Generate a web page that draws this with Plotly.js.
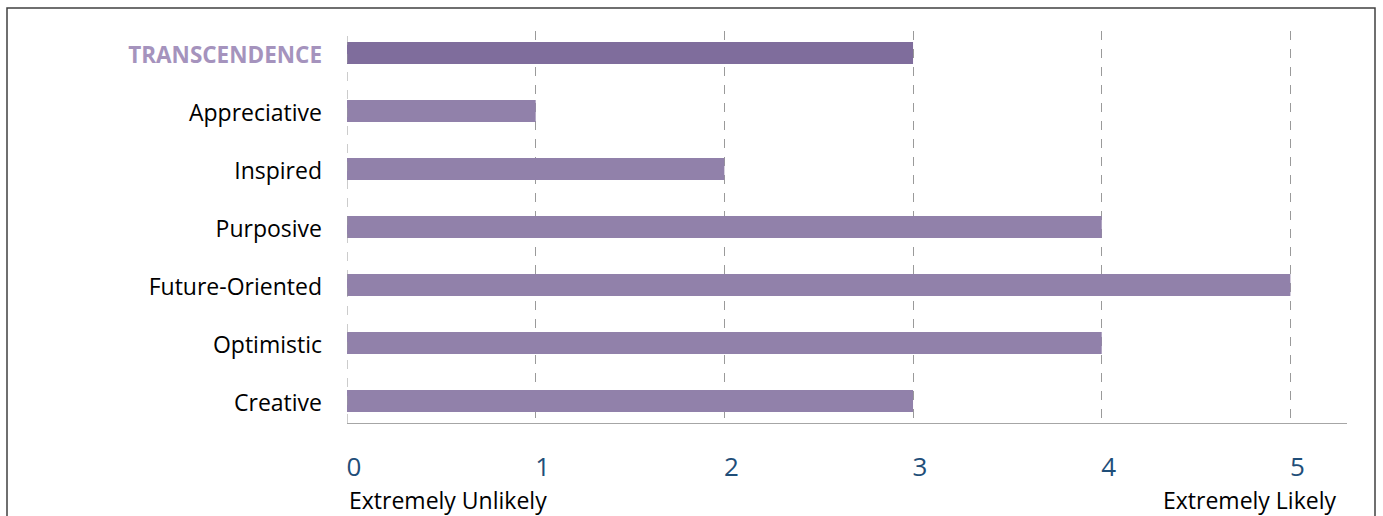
<!DOCTYPE html>
<html><head><meta charset="utf-8">
<script src="https://cdn.plot.ly/plotly-3.0.1.min.js"></script>
<style>html,body{margin:0;padding:0;background:#fff;}#chart{width:1383px;height:516px;}</style>
</head><body><div id="chart"></div>
<script>
const categories = ["TRANSCENDENCE","Appreciative","Inspired","Purposive","Future-Oriented","Optimistic","Creative"];
const values = [3,1,2,4,5,4,3];
const tickVals = [0,1,2,3,4,5];
const lowLabel = "Extremely Unlikely";
const highLabel = "Extremely Likely";

const barColors = categories.map((c,i)=> i===0 ? "#7f6d9c" : "#9181aa");
const tickText = categories.map((c,i)=> i===0 ? '<b><span style="color:#a593bd;font-size:22.5px">'+c+'</span></b>' : c);

const trace = {
  type:'bar', orientation:'h',
  x: values, y: categories.map((c,i)=>i),
  marker:{color:barColors, line:{width:0}},
  width:0.38, hoverinfo:'none'
};
const layout = {
  width:1383, height:516,
  margin:{l:347, r:36, t:31, b:93},
  paper_bgcolor:'#ffffff', plot_bgcolor:'#ffffff',
  showlegend:false,
  font:{family:'"Open Sans", sans-serif', size:23, color:'#000'},
  xaxis:{
    range:[0,5.3], tickvals:tickVals, ticktext:tickVals.map(String),
    showgrid:true, gridcolor:'#9a9a9a', griddash:'dash', gridwidth:1,
    zeroline:false, showline:true, linecolor:'#a6a6a6', linewidth:1,
    ticks:'', tickfont:{size:26, color:'#1f4e79'}, ticklabelstandoff:21, ticklabelshift:7
  },
  yaxis:{
    range:[6.38,-0.38], tickvals:categories.map((c,i)=>i), ticktext:tickText,
    showgrid:false, zeroline:false, showline:false, ticks:'',
    tickfont:{size:23, color:'#000'}, ticklabelstandoff:24, ticklabelshift:-2
  },
  shapes:[
    {type:'line', xref:'x', yref:'paper', x0:0, x1:0, y0:0, y1:1, line:{color:'#9a9a9a', width:1, dash:'dash'}},
    {type:'rect', xref:'paper', yref:'paper', x0:-0.34, x1:1.028, y0:-0.3, y1:1.0585, line:{color:'#404040', width:1.5}, fillcolor:'rgba(0,0,0,0)'}
  ],
  annotations:[
    {x:0, y:-0.196, xref:'x', yref:'paper', text:lowLabel, showarrow:false, xanchor:'left', yanchor:'middle', font:{size:23, color:'#000'}},
    {x:5.25, y:-0.196, xref:'x', yref:'paper', text:highLabel, showarrow:false, xanchor:'right', yanchor:'middle', font:{size:23, color:'#000'}}
  ]
};
Plotly.newPlot('chart',[trace],layout,{staticPlot:true, displayModeBar:false});
</script></body></html>
